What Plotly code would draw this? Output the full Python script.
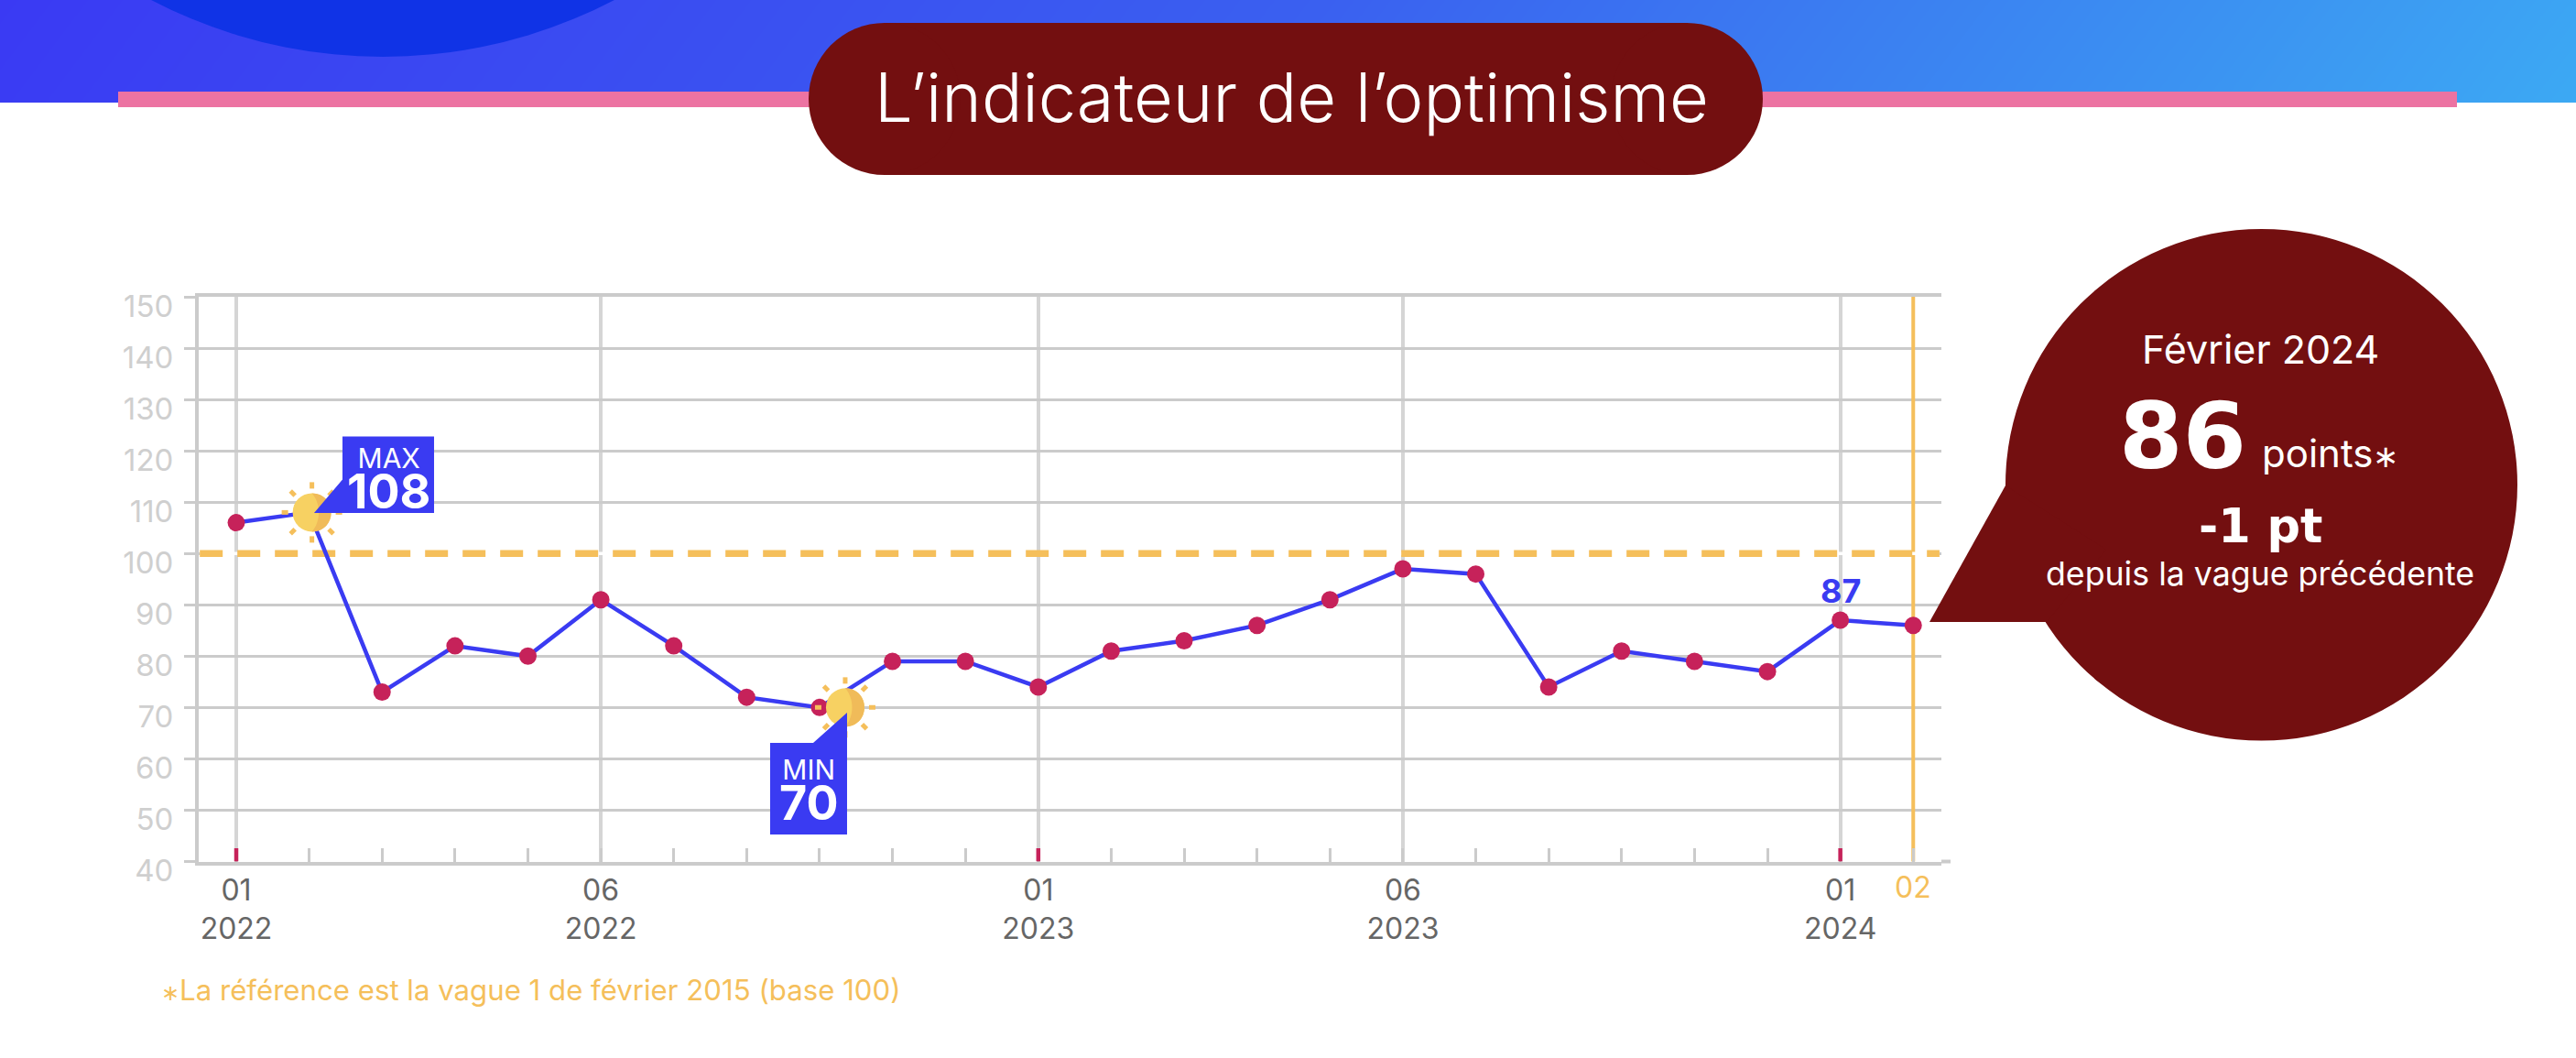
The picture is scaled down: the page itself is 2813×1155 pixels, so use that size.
import plotly.graph_objects as go

W, H = 2813, 1155

# ---- data -------------------------------------------------------------
wave_index = list(range(24))
optimism = [106, 108, 73, 82, 80, 91, 82, 72, 70, 79, 79, 74, 81, 83, 86, 91, 97, 96, 74, 81, 79, 77, 87, 86]
x_tick_vals = [0, 5, 11, 16, 22]
x_tick_text = ["01<br>2022", "06<br>2022", "01<br>2023", "06<br>2023", "01<br>2024"]
red_tick_vals = [0, 11, 22]
y_tick_vals = [40, 50, 60, 70, 80, 90, 100, 110, 120, 130, 140, 150]
reference_level = 100
max_idx, min_idx = 1, 8
latest_label_idx = 22
last_idx = 23

# ---- style ------------------------------------------------------------
BLUE = "#3a3bf2"
CRIMSON = "#c6225a"
ORANGE = "#f5bf5b"
SUN = "#f7d162"
SUN_DK = "#f0bb59"
MAROON = "#730f10"
GRID = "#cbcbcb"
VGRID = "#d5d5d5"
FONT = "Inter"
HEAVY = "DejaVu Sans"

X0, X1, Y_TOP, Y_BOT = 217, 2120, 324, 940.5
IDX0_PX, STEP_PX = 258, 79.62


def px(x):
    return x / W


def py(y):
    return 1 - y / H


def box(x0, y0, x1, y1, color, kind="rect", layer="above"):
    return dict(type=kind, xref="paper", yref="paper", x0=px(x0), x1=px(x1),
                y0=py(y0), y1=py(y1), fillcolor=color, line_width=0, layer=layer)


def poly(pts, color):
    d = "M " + " L ".join(f"{px(a):.5f},{py(b):.5f}" for a, b in pts) + " Z"
    return dict(type="path", xref="paper", yref="paper", path=d, fillcolor=color,
                line_width=0, layer="above")


def txt(x, y, s, size, color="white", weight=400, anchor="center", font=FONT):
    return dict(xref="paper", yref="paper", x=px(x), y=py(y), text=s, showarrow=False,
                xanchor=anchor, yanchor="middle", align="center",
                font=dict(family=font, size=size, color=color, weight=weight))


def flag_text(label, value):
    return f"<span style='font-size:30px'>{label}</span><br><span style='font-size:52px'><b>{value}</b></span>"


def sun(xa, ya, dx, dy):
    """Sun icon anchored on a data point; offsets in pixels, y pointing up."""
    out = []
    base = dict(xref="x", yref="y", xsizemode="pixel", ysizemode="pixel",
                xanchor=xa, yanchor=ya, layer="above")
    r = 21
    rays = [(0, 1), (0.71, 0.71), (1, 0), (0.71, -0.71), (0, -1), (-0.71, -0.71), (-1, 0), (-0.71, 0.71)]
    for ux, uy in rays:
        out.append(dict(type="line", x0=dx + ux * 26, y0=dy + uy * 26, x1=dx + ux * 33, y1=dy + uy * 33,
                        line=dict(color=ORANGE, width=5), **base))
    out.append(dict(type="circle", x0=dx - r, x1=dx + r, y0=dy - r, y1=dy + r,
                    fillcolor=SUN, line_width=0, **base))
    path = (f"M {dx},{dy + r} C {dx + 28},{dy + r} {dx + 28},{dy - r} {dx},{dy - r} "
            f"C {dx + 10},{dy - 10} {dx + 10},{dy + 10} {dx},{dy + r} Z")
    out.append(dict(type="path", path=path, fillcolor=SUN_DK, line_width=0, **base))
    return out


fig = go.Figure()

# header gradient on its own hidden axes
fig.add_trace(go.Heatmap(x=[0, 1], y=[0, 1], z=[[0.03, 1.03], [0.0, 1.0]], zmin=0, zmax=1.03, zsmooth="best",
                         colorscale=[[0, "#3a3af3"], [0.5, "#3a60f0"], [1, "#3ca9f3"]],
                         showscale=False, hoverinfo="skip", xaxis="x2", yaxis="y2"))

# latest wave marker line
fig.add_trace(go.Scatter(x=[last_idx, last_idx], y=[y_tick_vals[0] - 0.5, y_tick_vals[-1]], mode="lines",
                         line=dict(color=ORANGE, width=4), cliponaxis=False, hoverinfo="skip"))
# reference level: white under-line hides the grid line in the dash gaps
fig.add_trace(go.Scatter(x=[-0.5, 23.36], y=[reference_level, reference_level], mode="lines",
                         line=dict(color="white", width=3.5), cliponaxis=False, hoverinfo="skip"))
fig.add_trace(go.Scatter(x=[-0.5, 23.36], y=[reference_level, reference_level], mode="lines",
                         line=dict(color=ORANGE, width=7.5, dash="25px,16px"), cliponaxis=False, hoverinfo="skip"))
# red ticks on the base line
fig.add_trace(go.Scatter(x=red_tick_vals, y=[y_tick_vals[0]] * len(red_tick_vals), mode="markers",
                         marker=dict(size=1, color=CRIMSON),
                         error_y=dict(type="constant", symmetric=False, value=2.6, valueminus=0, color=CRIMSON,
                                      thickness=4.5, width=0), hoverinfo="skip"))
# the series
fig.add_trace(go.Scatter(x=wave_index, y=optimism, mode="lines+markers",
                         line=dict(color=BLUE, width=4.5),
                         marker=dict(color=CRIMSON, size=19), cliponaxis=False))

shapes = [
    dict(type="circle", xref="paper", yref="paper", x0=px(418 - 547), x1=px(418 + 547),
         y0=py(-485 - 547), y1=py(-485 + 547), fillcolor="#1033e6", line_width=0, layer="above"),
    box(129, 100, 2683, 117, "#ec73a2"),
    box(966, 25, 1842, 191, MAROON),
    box(883, 25, 1049, 191, MAROON, "circle"),
    box(1759, 25, 1925, 191, MAROON, "circle"),
    box(2190, 250, 2749, 808.5, MAROON, "circle"),
    poly([(2190, 530), (2107, 679), (2235, 679), (2300, 600)], MAROON),
    # base line extension on the right
    box(2120, 938.5, 2130, 942.5, GRID, layer="below"),
    # MAX flag
    poly([(374, 476.5), (474, 476.5), (474, 560), (343, 560), (374, 523.5)], BLUE),
    # MIN flag
    poly([(841, 811), (888, 811), (925, 778), (925, 911), (841, 911)], BLUE),
]
flags_last = shapes[-2:]
shapes = shapes[:-2] + sun(max_idx, optimism[max_idx], 3, 0) + sun(min_idx, optimism[min_idx], 28, 0) + flags_last

annotations = [
    txt(1410, 106, "L’indicateur de l’optimisme", 74, weight=300),
    txt(424, 525, flag_text("MAX", max(optimism)), 34),
    txt(883, 865, flag_text("MIN", min(optimism)), 34),
    dict(x=latest_label_idx, y=optimism[latest_label_idx], xref="x", yref="y", text=str(optimism[latest_label_idx]),
         showarrow=False, yshift=32, font=dict(family=FONT, size=36, color=BLUE, weight=700)),
    dict(x=last_idx, y=y_tick_vals[0], xref="x", yref="y", text="02", showarrow=False, yshift=-28,
         font=dict(family=FONT, size=32, color=ORANGE)),
    txt(2468, 381, "Février 2024", 43),
    txt(2383, 476, str(optimism[last_idx]), 100, weight=700, font=HEAVY),
    txt(2468, 494, "points<span style='font-size:34px'>∗</span>", 42, anchor="left"),
    txt(2468, 574, "-1 pt", 51, weight=700, font=HEAVY),
    txt(2468, 626, "depuis la vague précédente", 35.7),
    txt(174, 1081, "<span style='font-size:24px'>∗</span>La référence est la vague 1 de février 2015 (base 100)",
        31.2, color=ORANGE, anchor="left"),
]

fig.update_layout(
    width=W, height=H, margin=dict(l=0, r=0, t=0, b=0), autosize=False,
    paper_bgcolor="white", plot_bgcolor="rgba(0,0,0,0)", showlegend=False,
    shapes=shapes, annotations=annotations,
    xaxis=dict(domain=[px(X0), px(X1)], range=[(X0 - IDX0_PX) / STEP_PX, (X1 - IDX0_PX) / STEP_PX],
               automargin=False, tickmode="array", tickvals=x_tick_vals, ticktext=x_tick_text,
               showgrid=True, gridcolor=VGRID, gridwidth=4, zeroline=False,
               showline=True, linecolor=GRID, linewidth=4, mirror=True,
               ticks="", tickfont=dict(family=FONT, size=32, color="#666666"), ticklabelstandoff=0,
               minor=dict(tickmode="array", tickvals=[i for i in wave_index if i not in red_tick_vals],
                          ticks="inside", ticklen=15, tickwidth=3, tickcolor=GRID, showgrid=False)),
    yaxis=dict(domain=[py(Y_BOT), py(Y_TOP)], range=[y_tick_vals[0], y_tick_vals[-1]],
               automargin=False, tickmode="array", tickvals=y_tick_vals,
               showgrid=True, gridcolor=GRID, gridwidth=2.5, zeroline=False,
               showline=True, linecolor=GRID, linewidth=4, mirror=False,
               ticks="outside", ticklen=12, tickcolor=GRID, tickwidth=2.5,
               tickfont=dict(family=FONT, size=33, color="#cfcfcf"), ticklabelshift=10,
               ticklabelstandoff=5),
    xaxis2=dict(domain=[0, 1], range=[0, 1], visible=False, anchor="y2", fixedrange=True, automargin=False),
    yaxis2=dict(domain=[py(112), 1], range=[0, 1], visible=False, anchor="x2", fixedrange=True, automargin=False),
)

fig.write_html("out.html", config=dict(displayModeBar=False),
               post_script="document.body.style.margin='0';")
